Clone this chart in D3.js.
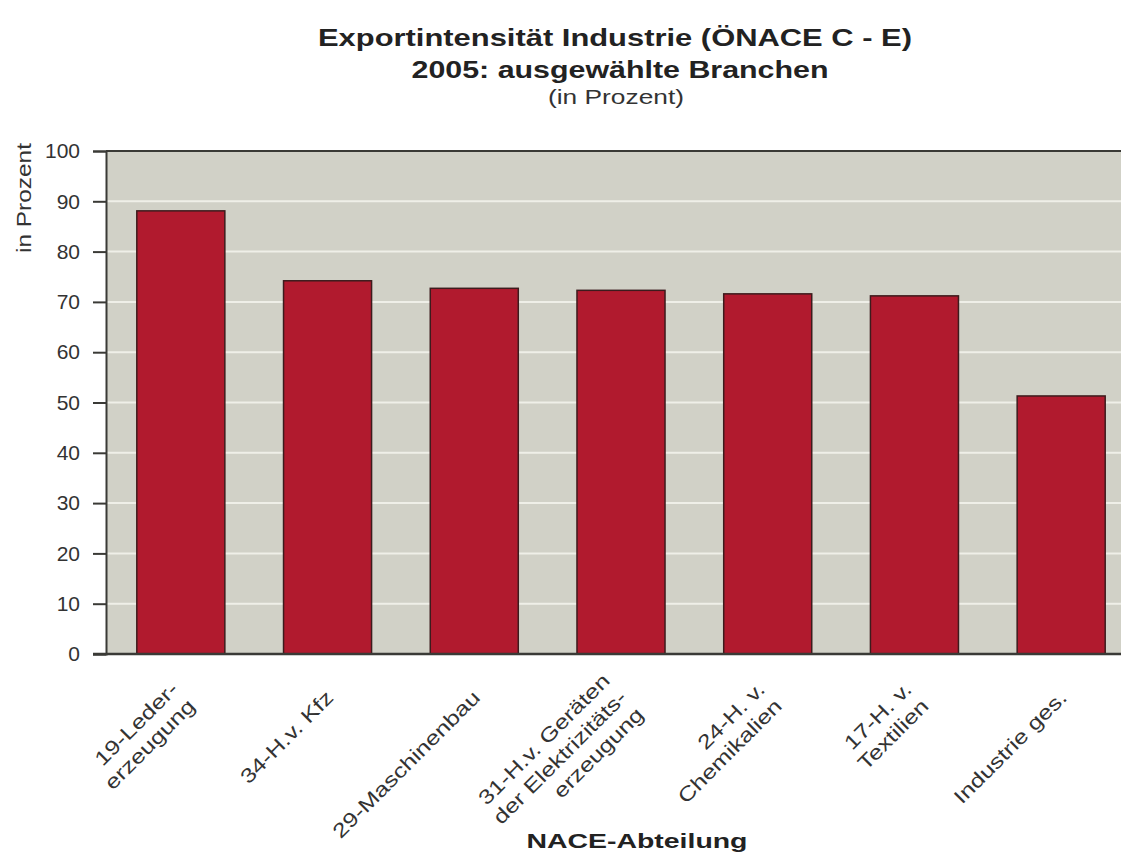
<!DOCTYPE html>
<html>
<head>
<meta charset="utf-8">
<script src="https://cdn.jsdelivr.net/npm/d3@7"></script>
<style>
  html, body { margin: 0; padding: 0; background: #ffffff; }
  svg { display: block; font-family: "Liberation Sans", Arial, Helvetica, sans-serif; }
</style>
</head>
<body>
<svg id="chart" width="1121" height="854"></svg>
<script>
// Exportintensität nach NACE-Abteilung, 2005
const categories = [
  ["19-Leder-", "erzeugung"],
  ["34-H.v. Kfz"],
  ["29-Maschinenbau"],
  ["31-H.v. Geräten", "der Elektrizitäts-", "erzeugung"],
  ["24-H. v.", "Chemikalien"],
  ["17-H. v.", "Textilien"],
  ["Industrie ges."]
];
const values = [88.1, 74.2, 72.7, 72.3, 71.6, 71.2, 51.3];
const yTicks = [0, 10, 20, 30, 40, 50, 60, 70, 80, 90, 100];
const titleLines = ["Exportintensität Industrie (ÖNACE C - E)", "2005: ausgewählte Branchen"];
const subtitle = "(in Prozent)";
const yTitle = "in Prozent";
const xTitle = "NACE-Abteilung";

const svg = d3.select("#chart");
const m = { left: 106, top: 151, right: 1136, bottom: 654 };

const keys = categories.map(c => c.join(" "));
const x = d3.scaleBand().domain(keys).range([m.left, m.right])
  .paddingInner(0.4).paddingOuter(0.21);
const y = d3.scaleLinear().domain([0, 100]).range([m.bottom, m.top]);

// plot background
svg.append("rect")
  .attr("x", m.left).attr("y", m.top)
  .attr("width", m.right - m.left).attr("height", m.bottom - m.top)
  .attr("fill", "#d1d1c7");

// light gridlines
svg.append("g")
  .selectAll("line")
  .data(yTicks.filter(t => t > 0 && t < 100))
  .join("line")
  .attr("x1", m.left).attr("x2", m.right)
  .attr("y1", d => y(d)).attr("y2", d => y(d))
  .attr("stroke", "#efefe8").attr("stroke-width", 2);

// top frame line
svg.append("line")
  .attr("x1", m.left).attr("x2", m.right)
  .attr("y1", y(100)).attr("y2", y(100))
  .attr("stroke", "#3a3a36").attr("stroke-width", 2);

// bars
svg.append("g")
  .selectAll("rect")
  .data(values)
  .join("rect")
  .attr("x", (d, i) => x(keys[i]))
  .attr("y", d => y(d))
  .attr("width", x.bandwidth())
  .attr("height", d => y(0) - y(d))
  .attr("fill", "#b11a2e")
  .attr("stroke", "#3d1b1d")
  .attr("stroke-width", 1.5);

// y axis
const yAxis = svg.append("g")
  .attr("transform", `translate(${m.left},0)`)
  .call(d3.axisLeft(y).tickValues(yTicks).tickSize(13).tickPadding(13));
yAxis.select(".domain").attr("stroke", "#3a3a36").attr("stroke-width", 2);
yAxis.selectAll(".tick line").attr("stroke", "#3a3a36").attr("stroke-width", 2);
yAxis.selectAll(".tick text")
  .attr("fill", "#333")
  .style("font-size", "21px")
  .style("font-family", "\"Liberation Sans\", Arial, sans-serif");

// baseline
svg.append("line")
  .attr("x1", m.left - 13).attr("x2", m.right)
  .attr("y1", y(0)).attr("y2", y(0))
  .attr("stroke", "#3a3a36").attr("stroke-width", 2.5);

// rotated category labels, right-aligned, block centred on the anchor
const lh = 24;
const lab = svg.append("g").selectAll("text")
  .data(categories)
  .join("text")
  .attr("transform", (d, i) =>
    `translate(${x(keys[i]) + x.bandwidth() / 2 + 2},${y(0) + 40}) rotate(-45) scale(1.25,1)`)
  .attr("text-anchor", "end")
  .attr("fill", "#333")
  .style("font-size", "20px");
lab.selectAll("tspan")
  .data(d => d.map((t, k) => ({ t, k, n: d.length })))
  .join("tspan")
  .attr("x", 0)
  .attr("y", d => (d.k - (d.n - 1) / 2) * lh)
  .attr("dy", "0.35em")
  .text(d => d.t);

// titles
svg.append("text").attr("x", 615).attr("y", 46)
  .attr("text-anchor", "middle").attr("fill", "#222")
  .attr("textLength", 594).attr("lengthAdjust", "spacingAndGlyphs")
  .style("font-size", "24px").style("font-weight", "bold")
  .text(titleLines[0]);
svg.append("text").attr("x", 620).attr("y", 78)
  .attr("text-anchor", "middle").attr("fill", "#222")
  .attr("textLength", 417).attr("lengthAdjust", "spacingAndGlyphs")
  .style("font-size", "24px").style("font-weight", "bold")
  .text(titleLines[1]);
svg.append("text").attr("x", 616).attr("y", 104)
  .attr("text-anchor", "middle").attr("fill", "#333")
  .attr("textLength", 136).attr("lengthAdjust", "spacingAndGlyphs")
  .style("font-size", "21px")
  .text(subtitle);

// axis titles
svg.append("text")
  .attr("transform", `translate(31,198) rotate(-90)`)
  .attr("text-anchor", "middle").attr("fill", "#333")
  .attr("textLength", 110).attr("lengthAdjust", "spacingAndGlyphs")
  .style("font-size", "20px")
  .text(yTitle);
svg.append("text").attr("x", 637).attr("y", 848)
  .attr("text-anchor", "middle").attr("fill", "#222")
  .attr("textLength", 221).attr("lengthAdjust", "spacingAndGlyphs")
  .style("font-size", "21px").style("font-weight", "bold")
  .text(xTitle);
</script>
</body>
</html>
